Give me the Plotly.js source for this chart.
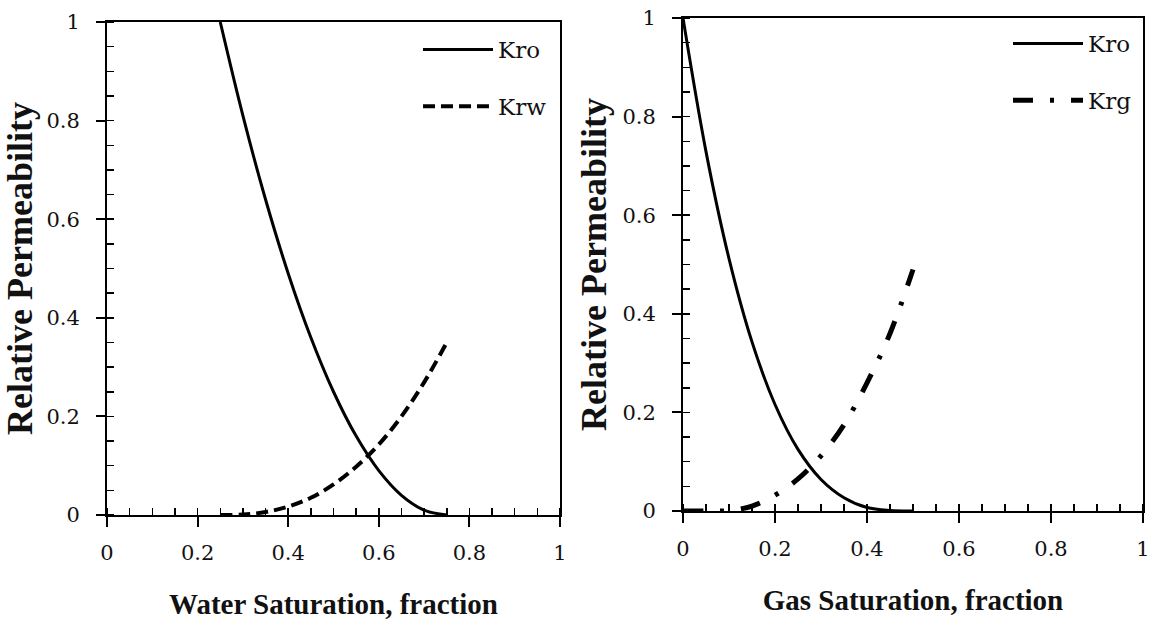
<!DOCTYPE html>
<html>
<head>
<meta charset="utf-8">
<script src="https://cdn.plot.ly/plotly-3.0.1.min.js"></script>
<style>html,body{margin:0;padding:0;background:#fff;}</style>
</head>
<body>
<div id="chart" style="width:1155px;height:628px;"></div>
<script>
// Left panel: water–oil
const sw = [0.25, 0.30, 0.35, 0.40, 0.45, 0.50, 0.55, 0.60, 0.65, 0.70, 0.75];
const kroWater = [1.00, 0.81, 0.64, 0.49, 0.36, 0.25, 0.16, 0.09, 0.04, 0.01, 0.00];
const krw = [0.000, 0.001, 0.006, 0.017, 0.035, 0.062, 0.098, 0.143, 0.200, 0.269, 0.350];
// Right panel: gas–oil
const sg = [0.00, 0.05, 0.10, 0.15, 0.20, 0.25, 0.30, 0.35, 0.40, 0.45, 0.50];
const kroGas = [1.000, 0.729, 0.512, 0.343, 0.216, 0.125, 0.064, 0.027, 0.007, 0.001, 0.000];
const krg = [0.000, 0.000, 0.001, 0.010, 0.032, 0.065, 0.112, 0.175, 0.260, 0.360, 0.490];

const xTitles = ['Water Saturation, fraction', 'Gas Saturation, fraction'];
const yTitle = 'Relative Permeability';
const names = ['Kro', 'Krw', 'Kro', 'Krg'];

const SERIF = '"DejaVu Serif", "Liberation Serif", serif';
const BOLDSERIF = '"Liberation Serif", "DejaVu Serif", serif';

const traces = [
  {x: sw, y: kroWater, name: names[0], mode: 'lines', line: {color: '#000', width: 3, shape: 'spline'}, xaxis: 'x', yaxis: 'y', legend: 'legend', legendgroup: 'a'},
  {x: sw, y: krw, name: names[1], mode: 'lines', line: {color: '#000', width: 4, dash: '12px,6px', shape: 'spline'}, xaxis: 'x', yaxis: 'y', legend: 'legend', legendgroup: 'b'},
  {x: sg, y: kroGas, name: names[2], mode: 'lines', line: {color: '#000', width: 3, shape: 'spline'}, xaxis: 'x2', yaxis: 'y2', legend: 'legend2', legendgroup: 'c'},
  {x: sg, y: krg, name: names[3], mode: 'lines', line: {color: '#000', width: 5, dash: '20px,17px,4px,17px', shape: 'spline'}, xaxis: 'x2', yaxis: 'y2', legend: 'legend2', legendgroup: 'd'}
];

function xax(domain, anchor, title) {
  return {
    domain: domain, anchor: anchor, range: [0, 1], tick0: 0, dtick: 0.2,
    ticks: 'outside', ticklen: 10, tickwidth: 2, tickcolor: '#000',
    minor: {dtick: 0.05, ticks: 'inside', ticklen: 7, tickwidth: 1.5, tickcolor: '#000', showgrid: false},
    showline: true, linecolor: '#000', linewidth: 2, mirror: true,
    showgrid: false, zeroline: false, ticklabelstandoff: 8,
    tickfont: {family: SERIF, size: 21, color: '#111'},
    title: {text: title, standoff: 29, font: {family: BOLDSERIF, size: 29, color: '#111', weight: 'bold'}}
  };
}
function yax(domain, anchor, title) {
  return {
    domain: domain, anchor: anchor, range: [0, 1], tick0: 0, dtick: 0.2,
    ticks: 'outside', ticklen: 9, tickwidth: 2, tickcolor: '#000',
    minor: {dtick: 0.05, ticks: 'inside', ticklen: 7, tickwidth: 1.5, tickcolor: '#000', showgrid: false},
    showline: true, linecolor: '#000', linewidth: 2, mirror: true,
    showgrid: false, zeroline: false, ticklabelstandoff: 12,
    tickfont: {family: SERIF, size: 21, color: '#111'},
    title: {text: title, standoff: 5, font: {family: BOLDSERIF, size: 36, color: '#111', weight: 'bold'}}
  };
}

const legendBase = {
  xanchor: 'right', yanchor: 'top', bgcolor: 'rgba(0,0,0,0)', borderwidth: 0,
  font: {family: SERIF, size: 23, color: '#111'}, itemwidth: 70,
  traceorder: 'grouped', tracegroupgap: 24
};

const layout = {
  width: 1155, height: 628,
  margin: {l: 0, r: 0, t: 0, b: 0},
  paper_bgcolor: '#fff', plot_bgcolor: '#fff',
  showlegend: true,
  xaxis: xax([107/1155, 560/1155], 'y', xTitles[0]),
  yaxis: yax([1 - 515/628, 1 - 22/628], 'x', yTitle),
  xaxis2: xax([683/1155, 1143/1155], 'y2', xTitles[1]),
  yaxis2: yax([1 - 511/628, 1 - 18/628], 'x2', yTitle),
  legend: Object.assign({}, legendBase, {x: 552/1155, y: 1 - 28/628}),
  legend2: Object.assign({}, legendBase, {x: 1137/1155, y: 1 - 22/628})
};

Plotly.newPlot('chart', traces, layout, {displayModeBar: false, staticPlot: true});
</script>
</body>
</html>
